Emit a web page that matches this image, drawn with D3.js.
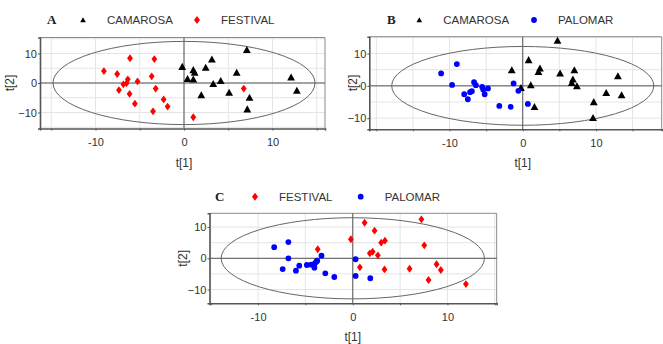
<!DOCTYPE html>
<html>
<head>
<meta charset="utf-8">
<script src="https://cdn.jsdelivr.net/npm/d3@7"></script>
<style>
body { margin: 0; background: #fff; }
svg { display: block; }
text { font-family: 'Liberation Sans Narrow', 'Arial Narrow', sans-serif; fill: #333; }
.letter { font-family: 'Liberation Serif', 'Times New Roman', serif; font-weight: bold; font-size: 13px; fill: #222; }
</style>
</head>
<body>
<svg></svg>
<script>
// score pairs [t1, t2]
const camarosaA = [[-0.2,5.5],[0.4,1.4],[1.05,4.4],[1.2,3.5],[1.05,1.2],[2.45,5.2],[3.15,8.0],[1.95,-4.1],[3.3,-0.3],[4.15,0.7],[5.1,-3.3],[5.95,3.5],[7.1,11.2],[7.4,-5.0],[7.15,-8.9],[12.1,1.9],[12.75,-2.6]]
const festivalA = [[-9.05,4.05],[-7.55,3.05],[-6.1,8.4],[-3.35,8.1],[-7.35,-2.4],[-6.85,-0.45],[-6.5,-0.1],[-6.35,1.25],[-6.15,-3.7],[-5.25,0.55],[-5.55,-7.0],[-3.65,2.25],[-3.2,-1.9],[-3.5,-9.6],[-2.3,-5.55],[-1.85,-8.0],[1.05,-11.6],[6.75,-1.9]]
const camarosaB = [[-1.5,4.9],[-0.25,-0.6],[0.8,8.0],[1.1,0.2],[1.6,-6.5],[2.15,4.35],[2.35,5.4],[4.75,14.0],[5.1,3.85],[6.7,0.95],[6.85,2.0],[7.05,4.9],[7.4,-0.1],[9.7,-5.0],[9.6,-9.95],[11.4,-2.15],[13.0,3.0],[13.5,-2.9]]
const palomarB = [[-11.15,3.85],[-9.0,6.75],[-9.65,0.3],[-8.0,-2.6],[-7.5,-4.15],[-7.2,-1.95],[-6.95,-1.65],[-6.65,1.15],[-6.4,0.2],[-5.55,-0.3],[-5.4,-1.1],[-5.2,-2.6],[-4.75,-0.8],[-3.2,-6.2],[-1.65,-6.5],[-1.25,0.75],[-0.6,-1.55],[0.7,-5.6]]
const festivalC = [[-3.7,2.9],[-0.2,6.1],[0.75,-2.9],[1.25,11.4],[1.8,1.6],[2.1,2.1],[2.3,8.85],[2.65,0.95],[3.0,5.0],[3.4,5.65],[3.35,-3.55],[6.0,-3.35],[7.25,12.5],[7.55,4.15],[8.0,-6.95],[8.85,-1.9],[9.3,-3.75],[11.95,-8.25]]
const palomarC = [[-8.3,3.55],[-6.8,5.2],[-6.8,0.0],[-7.4,-3.45],[-6.0,-3.95],[-5.65,-2.35],[-4.85,-2.15],[-4.4,-2.05],[-4.05,-3.0],[-4.0,-1.6],[-3.85,-1.1],[-3.75,-0.75],[-3.3,0.85],[-2.9,-4.8],[-1.95,-6.0],[0.3,-0.3],[0.3,-5.65],[1.85,-6.4]]

// Hotelling T2 ellipse radii [t1, t2]
const ellipseA = [14.8, 14.1]
const ellipseB = [17.9, 12.2]
const ellipseC = [13.9, 13.0]

const tickLabels = [-10, 0, 10]
const gridStep = 5

const width = 663, height = 344
const svg = d3.select('svg').attr('width', width).attr('height', height)

const marks = {
    triangle: { color: '#000', path: (s) => `M0,${-s}L${s},${s * 0.8}L${-s},${s * 0.8}Z`, size: 3.9, legend: 2.8 },
    diamond: { color: '#f00', path: (s) => `M0,${-s * 1.35}L${s},0L0,${s * 1.35}L${-s},0Z`, size: 2.9, legend: 3.0 },
    dot: { color: '#00f', path: (s) => `M${-s},0A${s},${s} 0 1,0 ${s},0A${s},${s} 0 1,0 ${-s},0Z`, size: 2.9, legend: 2.9 }
}

function drawPanel(cfg) {
    const g = svg.append('g')
    const { box } = cfg
    const x = d3.scaleLinear().domain(cfg.xDomain).range([box.left, box.right])
    const y = d3.scaleLinear().domain(cfg.yDomain).range([box.bottom, box.top])

    // grid
    const gx = d3.range(Math.ceil(cfg.xDomain[0] / gridStep) * gridStep, cfg.xDomain[1], gridStep)
    const gy = d3.range(Math.ceil(cfg.yDomain[0] / gridStep) * gridStep, cfg.yDomain[1], gridStep)
    g.selectAll('.gx').data(gx).join('line')
        .attr('x1', d => x(d)).attr('x2', d => x(d)).attr('y1', box.top).attr('y2', box.bottom)
        .attr('stroke', '#e4e4e4')
    g.selectAll('.gy').data(gy).join('line')
        .attr('y1', d => y(d)).attr('y2', d => y(d)).attr('x1', box.left).attr('x2', box.right)
        .attr('stroke', '#e4e4e4')

    // frame top/right
    g.append('path')
        .attr('d', `M${box.left},${box.top}H${box.right}V${box.bottom}`)
        .attr('fill', 'none').attr('stroke', '#8a8a8a')

    // zero lines
    g.append('line').attr('x1', x(0)).attr('x2', x(0)).attr('y1', box.top).attr('y2', box.bottom).attr('stroke', '#555')
    g.append('line').attr('y1', y(0)).attr('y2', y(0)).attr('x1', box.left).attr('x2', box.right).attr('stroke', '#555')

    // ellipse
    g.append('ellipse')
        .attr('cx', x(0)).attr('cy', y(0))
        .attr('rx', x(cfg.ellipse[0]) - x(0)).attr('ry', y(0) - y(cfg.ellipse[1]))
        .attr('fill', 'none').attr('stroke', '#666')

    // axes
    const xAxis = g.append('g').attr('transform', `translate(0,${box.bottom})`)
        .call(d3.axisBottom(x).tickValues(gx).tickSize(2).tickPadding(8)
            .tickFormat(d => tickLabels.includes(d) ? d : ''))
    const yAxis = g.append('g').attr('transform', `translate(${box.left},0)`)
        .call(d3.axisLeft(y).tickValues(tickLabels).tickSize(2).tickPadding(1))
    for (const ax of [xAxis, yAxis]) {
        ax.select('.domain').attr('stroke', '#555').attr('stroke-width', 1.6)
        ax.selectAll('.tick line').attr('stroke', '#555')
        ax.selectAll('.tick text').attr('font-size', 11).attr('fill', '#333').style('font-family', null)
    }
    xAxis.attr('font-family', null)
    yAxis.attr('font-family', null)

    // axis titles
    g.append('text').attr('x', x(0)).attr('y', box.bottom + 38)
        .attr('text-anchor', 'middle').attr('font-size', 12).text('t[1]')
    g.append('text').attr('transform', `translate(${cfg.yTitleX},${(box.top + box.bottom) / 2}) rotate(-90)`)
        .attr('text-anchor', 'middle').attr('font-size', 12).text('t[2]')

    // points
    for (const s of cfg.series) {
        const m = marks[s.mark]
        g.append('g').selectAll('path').data(s.data).join('path')
            .attr('transform', d => `translate(${x(d[0])},${y(d[1])})`)
            .attr('d', m.path(m.size)).attr('fill', m.color)
    }

    // legend
    const lg = svg.append('g')
    lg.append('text').attr('class', 'letter').attr('x', cfg.legend.letterX).attr('y', cfg.legend.y + 4).text(cfg.letter)
    cfg.series.forEach((s, i) => {
        const m = marks[s.mark]
        const lx = cfg.legend.xs[i]
        lg.append('path').attr('transform', `translate(${lx},${cfg.legend.y})`)
            .attr('d', m.path(m.legend)).attr('fill', m.color)
        lg.append('text').attr('x', lx + 24).attr('y', cfg.legend.y + 4)
            .attr('font-size', 11.5).attr('fill', '#333').text(s.name)
    })
}

drawPanel({
    letter: 'A',
    box: { left: 40, right: 325, top: 37.5, bottom: 128.5 },
    xDomain: [-16.27, 15.93], yDomain: [-15.42, 15.42],
    ellipse: ellipseA, yTitleX: 14,
    legend: { letterX: 47, y: 20, xs: [83, 197] },
    series: [
        { name: 'CAMAROSA', mark: 'triangle', data: camarosaA },
        { name: 'FESTIVAL', mark: 'diamond', data: festivalA }
    ]
})

drawPanel({
    letter: 'B',
    box: { left: 369.3, right: 661.7, top: 36.7, bottom: 129.3 },
    xDomain: [-20.96, 18.98], yDomain: [-13.45, 15.22],
    ellipse: ellipseB, yTitleX: 357,
    legend: { letterX: 387, y: 20, xs: [419.3, 534] },
    series: [
        { name: 'CAMAROSA', mark: 'triangle', data: camarosaB },
        { name: 'PALOMAR', mark: 'dot', data: palomarB }
    ]
})

drawPanel({
    letter: 'C',
    box: { left: 209.5, right: 496.7, top: 213.3, bottom: 303.3 },
    xDomain: [-15.13, 15.2], yDomain: [-14.42, 14.42],
    ellipse: ellipseC, yTitleX: 187,
    legend: { letterX: 215, y: 196.7, xs: [255, 360.7] },
    series: [
        { name: 'FESTIVAL', mark: 'diamond', data: festivalC },
        { name: 'PALOMAR', mark: 'dot', data: palomarC }
    ]
})
</script>
</body>
</html>
